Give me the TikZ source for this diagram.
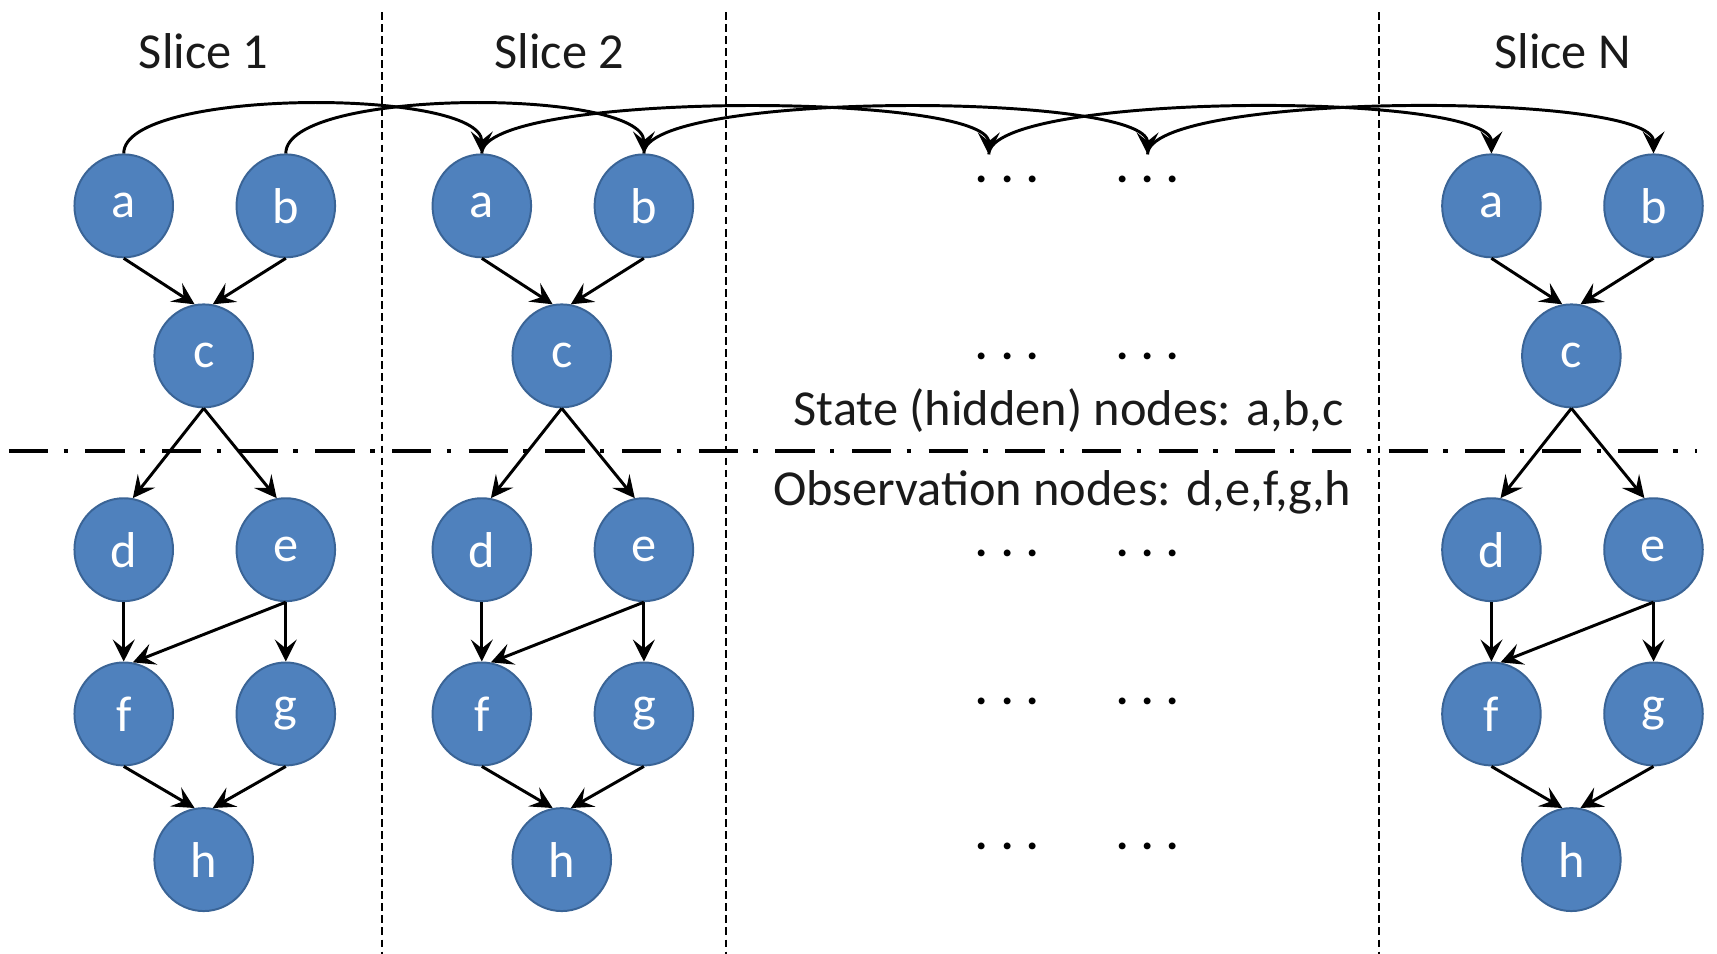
\documentclass[tikz,border=0pt]{standalone}
\usepackage{fontspec}
\setmainfont{Carlito}
\usetikzlibrary{arrows.meta,shapes.geometric}
\definecolor{nodeblue}{HTML}{4F81BD}
\definecolor{nodeedge}{HTML}{3A6496}
\definecolor{txt}{HTML}{1A1A1A}
\begin{document}
\begin{tikzpicture}[x=0.5pt,y=-0.5pt,
  bn/.style={ellipse,draw=nodeedge,line width=0.9pt,fill=nodeblue,text=white,
    minimum width=45pt,minimum height=47pt,inner sep=0pt,font=\fontsize{23}{26}\selectfont},
  arr/.style={draw=black,line width=1.35pt,-{Stealth[length=10pt,width=10pt,inset=4pt]}},
  lbl/.style={text=txt,font=\fontsize{23}{26}\selectfont,inner sep=0pt},
  dots/.style={text=black,font=\fontsize{21}{22}\selectfont\bfseries,inner sep=0pt,
    text height=3pt,text depth=0pt},
  vsep/.style={draw=black,line width=1pt,dash pattern=on 3.5pt off 2pt},
  hsep/.style={draw=black,line width=1.8pt,dash pattern=on 18pt off 7pt on 2pt off 8pt}]
\useasboundingbox (0,0) rectangle (1568,871);
% separators
\draw[vsep] (349,11) -- (349,871);
\draw[vsep] (663,11) -- (663,871);
\draw[vsep] (1259,11) -- (1259,871);
\draw[hsep] (8,412) -- (1550,412);
% slice labels
\node[lbl] (s1) at (186,47) {Slice 1};
\node[lbl] (s2) at (511,47) {Slice 2};
\node[lbl] (sN) at (1427,47) {Slice N};
\node[lbl] (state) at (976,375) {State (hidden) nodes: a,b,c};
\node[lbl] (obs) at (970,450) {Observation nodes: d,e,f,g,h};
% slices
\foreach \s/\dx in {1/0,2/327,N/1249}{
  \node[bn] (a\s) at (113+\dx,188) {a};
  \node[bn] (b\s) at (261+\dx,188) {b};
  \node[bn] (c\s) at (186+\dx,325) {c};
  \node[bn] (d\s) at (113+\dx,502) {d};
  \node[bn] (e\s) at (261+\dx,502) {e};
  \node[bn] (f\s) at (113+\dx,652) {f};
  \node[bn] (g\s) at (261+\dx,652) {g};
  \node[bn] (h\s) at (186+\dx,785) {h};
  \draw[arr] (a\s.south) -- (c\s.100);
  \draw[arr] (b\s.south) -- (c\s.80);
  \draw[arr] (c\s.south) -- (d\s.80);
  \draw[arr] (c\s.south) -- (e\s.100);
  \draw[arr] (d\s.south) -- (f\s.north);
  \draw[arr] (e\s.south) -- (f\s.80);
  \draw[arr] (e\s.south) -- (g\s.north);
  \draw[arr] (f\s.south) -- (h\s.100);
  \draw[arr] (g\s.south) -- (h\s.80);
}
% dots
\foreach \y [count=\i] in {164,325,505,640,773}{
  \node[dots] (dl\i) at (920,\y) {.\kern6pt.\kern6pt.};
  \node[dots] (dr\i) at (1048,\y) {.\kern6pt.\kern6pt.};
}
\coordinate (t1) at (903,141);
\coordinate (t2) at (1048,141);
% temporal arcs
\draw[arr] (a1.north) .. controls +(0,-60) and +(0,-60) .. (a2.north);
\draw[arr] (b1.north) .. controls +(0,-60) and +(0,-60) .. (b2.north);
\draw[arr] (a2.north) .. controls +(0,-57) and +(0,-57) .. (t1);
\draw[arr] (b2.north) .. controls +(0,-57) and +(0,-57) .. (t2);
\draw[arr] (t1) .. controls +(0,-57) and +(0,-57) .. (aN.north);
\draw[arr] (t2) .. controls +(0,-57) and +(0,-57) .. (bN.north);
\end{tikzpicture}
\end{document}
